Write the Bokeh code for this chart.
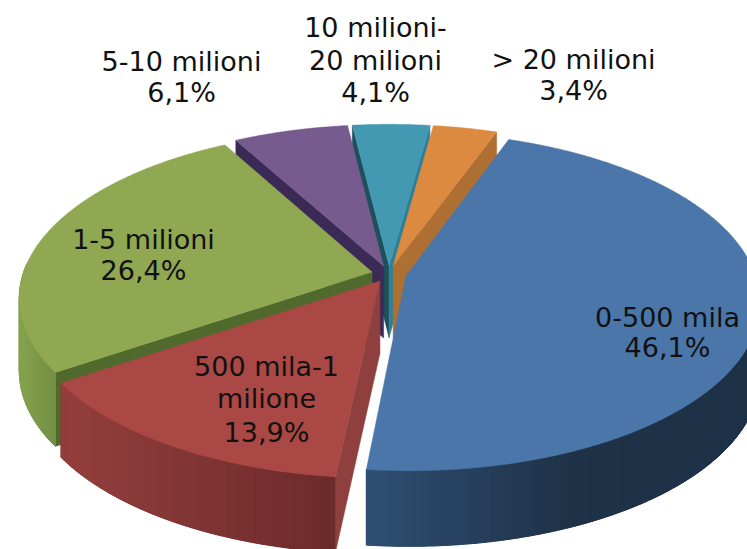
import numpy as np
from bokeh.plotting import figure
from bokeh.models import ColumnDataSource
from bokeh.core.properties import value
from bokeh.embed import file_html
from bokeh.resources import INLINE

# ---- data (percent shares, clockwise) ----
categories = ["0-500 mila", "500 mila-1 milione", "1-5 milioni", "5-10 milioni",
              "10 milioni-20 milioni", "> 20 milioni"]
shares = [46.1, 13.9, 26.4, 6.1, 4.1, 3.4]
share_labels = ["46,1%", "13,9%", "26,4%", "6,1%", "4,1%", "3,4%"]

# ---- style ----
face_colors = ["#4a76a9", "#aa4845", "#8fa851", "#775a8e", "#4399b1", "#dc8a40"]
start_wall = ["#3a5f8a", "#8f3f3d", "#4f6a2c", "#3b2a55", "#1f4f5c", "#a86a30"]
end_wall = ["#3a5f8a", "#8f3f3d", "#6f8a40", "#3b2a55", "#2f8096", "#ad6f32"]
outer_wall = [("#2f4f73", "#1f3248", 365, 570), ("#933f3d", "#6a2b2a", 70, 340),
              ("#86a350", "#6e8a40", 20, 65), ("#3b2a55", "#3b2a55", 0, 1),
              ("#1f4f5c", "#1f4f5c", 0, 1), ("#a86a30", "#a86a30", 0, 1)]
draw_order = [4, 5, 3, 2, 1, 0]

# ---- projection (page pixels) ----
W, H = 747, 549
CX, CY = 388.5, 273.5
A, B, P = 349.0, 165.0, 0.15
EXPLODE = 0.05
THICK = 72.0
FIRST_ANGLE = 20.0


def project(xd, zd):
    w = 1 + P * zd
    return CX + A * xd / w, CY - B * zd / w


def thick(zd):
    return THICK * (1 - 0.05 * zd)


def mix(c0, c1, t):
    t = min(1.0, max(0.0, t))
    a = [int(c0[i:i + 2], 16) for i in (1, 3, 5)]
    b = [int(c1[i:i + 2], 16) for i in (1, 3, 5)]
    return "#%02x%02x%02x" % tuple(int(round(a[k] + (b[k] - a[k]) * t)) for k in range(3))


xs, ys, cols = [], [], []


def add(px, py, c):
    xs.append(list(px))
    ys.append(list(py))
    cols.append(c)


spans = []
cur = FIRST_ANGLE
for s in shares:
    spans.append((cur, cur + s * 3.6))
    cur += s * 3.6

for i in draw_order:
    a0, a1 = spans[i]
    mid = np.radians((a0 + a1) / 2)
    ox, oz = EXPLODE * np.sin(mid), EXPLODE * np.cos(mid)
    th = np.radians(np.arange(a0, a1 + 0.001, 0.5))
    if th[-1] < np.radians(a1):
        th = np.append(th, np.radians(a1))
    xd = ox + np.sin(th)
    zd = oz + np.cos(th)
    px, py = project(xd, zd)
    ax, ay = project(ox, oz)
    ah = thick(oz)
    # straight cut walls
    if np.sin(th[0]) < 0:
        add([ax, px[0], px[0], ax], [ay, py[0], py[0] + thick(zd[0]), ay + ah], start_wall[i])
    if np.sin(th[-1]) > 0:
        add([ax, px[-1], px[-1], ax], [ay, py[-1], py[-1] + thick(zd[-1]), ay + ah], end_wall[i])
    # rim wall, front part only; every strip overlaps the next to hide seams
    c0, c1, x0, x1 = outer_wall[i]
    n = len(th)
    for k in range(0, n - 1):
        if zd[k] < 0.05 or zd[k + 1] < 0.05:
            e = min(n - 1, k + 3)
            t = (0.5 * (px[k] + px[k + 1]) - x0) / (x1 - x0)
            c = mix(c0, c1, t)
            add(list(px[k:e + 1]) + list(px[k:e + 1])[::-1],
                list(py[k:e + 1]) + list((py + thick(zd))[k:e + 1])[::-1], c)
    # top face
    add([ax] + list(px), [ay] + list(py), face_colors[i])

p = figure(width=W, height=H, x_range=(0, W), y_range=(H, 0),
           output_backend="svg", toolbar_location=None, min_border=0,
           outline_line_color=None, background_fill_color="white", border_fill_color="white")
p.axis.visible = False
p.grid.visible = False

p.patches("xs", "ys", source=ColumnDataSource(dict(xs=xs, ys=ys, c=cols)),
          fill_color="c", line_color="c", line_width=0.5)

# ---- labels ----
label_lines = [
    ("0-500 mila", 667, 317), (share_labels[0], 667, 347),
    ("500 mila-1", 266, 366), ("milione", 266, 398), (share_labels[1], 266, 432),
    ("1-5 milioni", 143, 239), (share_labels[2], 143, 270),
    ("5-10 milioni", 181, 61), (share_labels[3], 181, 92),
    ("10 milioni-", 375, 27), ("20 milioni", 375, 60), (share_labels[4], 375, 92),
    ("> 20 milioni", 573, 59), (share_labels[5], 573, 90),
]
p.text([l[1] for l in label_lines], [l[2] for l in label_lines],
       text=[l[0] for l in label_lines], text_font=value("DejaVu Sans"),
       text_font_size="27px", text_color="#111111",
       text_align="center", text_baseline="middle")

open("out.html", "w").write(file_html(p, INLINE))
